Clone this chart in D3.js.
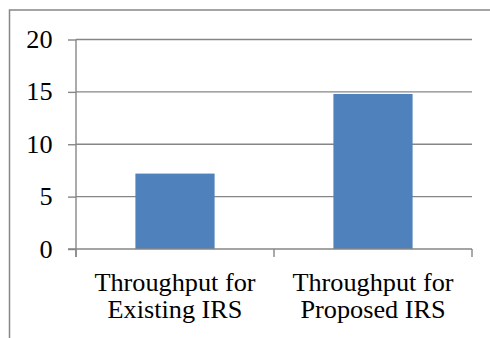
<!DOCTYPE html>
<html>
<head>
<meta charset="utf-8">
<script src="https://cdn.jsdelivr.net/npm/d3@7"></script>
<style>
  html, body { margin: 0; padding: 0; background: #fff; }
  svg { display: block; }
</style>
</head>
<body>
<svg id="chart" width="490" height="338"></svg>
<script>
// Throughput comparison data
const categories = [["Throughput for", "Existing IRS"], ["Throughput for", "Proposed IRS"]];
const throughput = [7.2, 14.8];
const yTicks = [0, 5, 10, 15, 20];

const svg = d3.select("#chart");
const W = 490, H = 338;
const plot = { left: 76, right: 472, top: 39.5, bottom: 249 };
const gridColor = "#868686";
const fontFamily = "'Liberation Serif', 'Times New Roman', serif";
const fontSize = "25px";
const textScaleX = 1.05;

// Chart frame (top and left edges fall inside the window)
svg.append("path")
  .attr("d", `M9.5,${H} V10 H${W}`)
  .attr("fill", "none")
  .attr("stroke", gridColor)
  .attr("stroke-width", 1.5);

const x = d3.scaleBand()
  .domain(d3.range(categories.length))
  .range([plot.left, plot.right])
  .paddingInner(0.6)
  .paddingOuter(0.3);

const y = d3.scaleLinear()
  .domain([0, 20])
  .range([plot.bottom, plot.top]);

// Horizontal gridlines
svg.append("g")
  .selectAll("line")
  .data(yTicks.filter(d => d > 0))
  .join("line")
  .attr("x1", plot.left).attr("x2", plot.right)
  .attr("y1", d => y(d)).attr("y2", d => y(d))
  .attr("stroke", gridColor)
  .attr("stroke-width", 1.4);

// Bars
svg.append("g")
  .selectAll("rect")
  .data(throughput)
  .join("rect")
  .attr("x", (d, i) => x(i))
  .attr("width", x.bandwidth())
  .attr("y", d => y(d))
  .attr("height", d => y(0) - y(d))
  .attr("fill", "#4F81BD");

// Y axis
const yAxis = svg.append("g")
  .attr("transform", `translate(${plot.left},0)`)
  .call(d3.axisLeft(y).tickValues(yTicks).tickSize(8).tickPadding(0).tickFormat(d3.format("d")));
yAxis.select(".domain").remove();
yAxis.append("line")
  .attr("x1", 0).attr("x2", 0)
  .attr("y1", plot.top).attr("y2", plot.bottom + 8)
  .attr("stroke", gridColor).attr("stroke-width", 1.4);
yAxis.selectAll(".tick line").attr("stroke", gridColor).attr("stroke-width", 1.4);
yAxis.selectAll(".tick text").remove();
yAxis.selectAll(".tick")
  .append("text")
  .attr("text-anchor", "end")
  .attr("fill", "#000")
  .attr("transform", `translate(-23.5,8) scale(${textScaleX},1)`)
  .style("font-family", fontFamily)
  .style("font-size", fontSize)
  .text(d => d);

// X axis
const xEdges = [plot.left, ...d3.range(1, categories.length).map(i => x(i) - x.step() * x.paddingInner() / 2), plot.right];
const xAxis = svg.append("g");
xAxis.append("line")
  .attr("x1", plot.left - 8).attr("x2", plot.right)
  .attr("y1", plot.bottom).attr("y2", plot.bottom)
  .attr("stroke", gridColor).attr("stroke-width", 1.4);
xAxis.selectAll("line.tick")
  .data(xEdges)
  .join("line")
  .attr("class", "tick")
  .attr("x1", d => d).attr("x2", d => d)
  .attr("y1", plot.bottom).attr("y2", plot.bottom + 8)
  .attr("stroke", gridColor).attr("stroke-width", 1.4);

// Category labels (two lines each)
categories.forEach((lines, i) => {
  const cx = x(i) + x.bandwidth() / 2;
  lines.forEach((t, j) => {
    svg.append("text")
      .attr("text-anchor", "middle")
      .attr("fill", "#000")
      .attr("transform", `translate(${cx},${290.5 + j * 27}) scale(${textScaleX},1)`)
      .style("font-family", fontFamily)
      .style("font-size", fontSize)
      .text(t);
  });
});
</script>
</body>
</html>
